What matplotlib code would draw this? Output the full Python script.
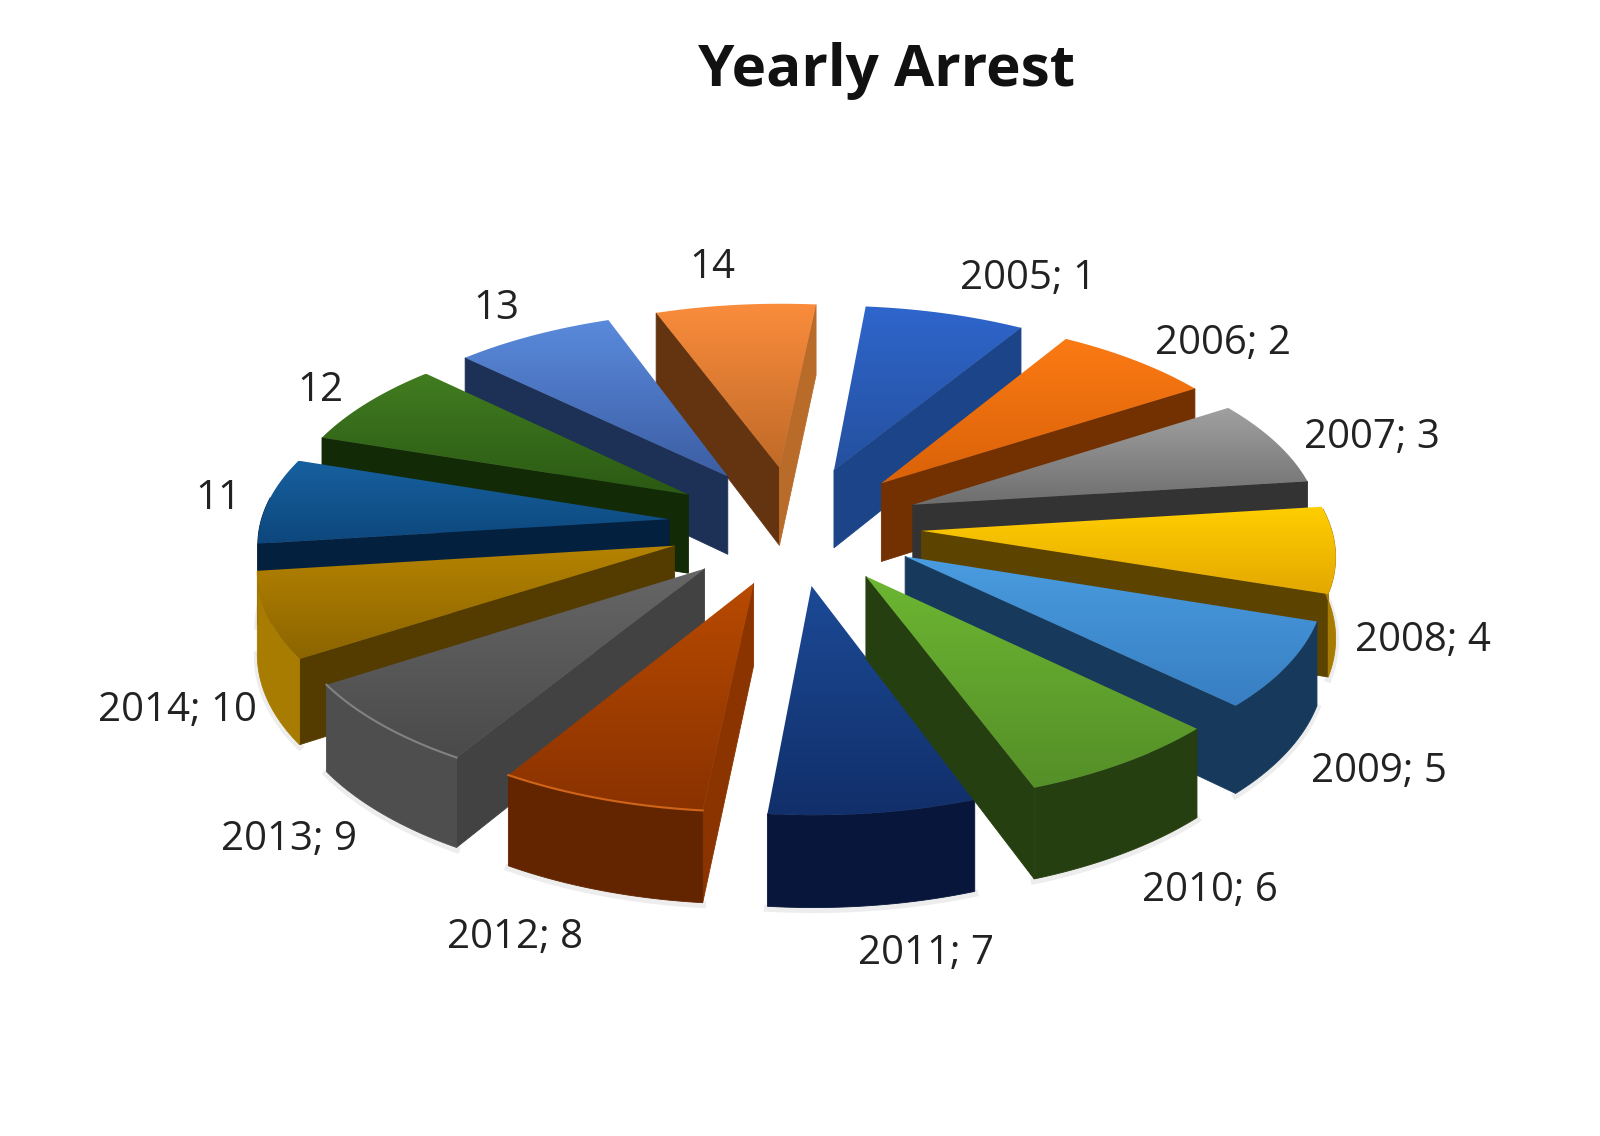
"""Yearly Arrest: exploded 3D pie, drawn by hand since matplotlib has no 3D pie."""
import numpy as np
import matplotlib
matplotlib.use("Agg")
import matplotlib.pyplot as plt
from matplotlib.patches import Polygon

categories = ["2005", "2006", "2007", "2008", "2009", "2010", "2011", "2012", "2013", "2014",
              "", "", "", ""]
label_values = [1, 2, 3, 4, 5, 6, 7, 8, 9, 10, 11, 12, 13, 14]
# the wedges in the picture are all the same size, whatever the label says
slice_sizes = [1, 1, 1, 1, 1, 1, 1, 1, 1, 1, 1, 1, 1, 1]

top_light = ["#2F66CC", "#FB7A14", "#A0A0A0", "#FFCE00", "#4A9CE0", "#6CB632", "#1C4A96",
             "#B84A00", "#666666", "#B58300", "#16609F", "#417C20", "#5A8ADC", "#FA8C3C"]
top_dark = ["#24509E", "#DA6208", "#6E6E6E", "#E4A800", "#387EC2", "#558F28", "#112F6A",
            "#8A3200", "#4A4A4A", "#8C6500", "#0D477C", "#2B5A14", "#3C5EA4", "#C06A28"]
side_col = ["#1C4488", "#733000", "#333333", "#5C4300", "#173A5C", "#263F10", "#07163A",
            "#8C3400", "#424242", "#543C00", "#04203F", "#122A05", "#1D3055", "#63340F"]
rim_col = ["#1C4488", "#733000", "#333333", "#A87C00", "#173A5C", "#263F10", "#07163A",
           "#622500", "#4E4E4E", "#A87C00", "#04203F", "#122A05", "#1D3055", "#63340F"]
# right-hand cut face where it differs from the rest
end_col = {13: "#B96B2A", 0: "#1C4488", 7: "#8C3400"}
# thin bevel highlight along the rim of the two front-left slices
bevel_col = {7: "#D0651A", 8: "#828282"}

# Excel paints 2011 before 2010, not in strict depth order
draw_order = [13, 0, 12, 1, 11, 2, 10, 3, 9, 4, 8, 6, 5, 7]

# camera set-up, in output pixels
CX, CY = 795, 525
SX, SY = 409, 192
PERSP = 0.103
THICK = 80
EXPLODE = 0.31
START = 5.6


def project(x, y, z=0.0):
    w = 1 + PERSP * y
    return CX + SX * x / w, CY - SY * y / w + z * THICK / w


def area(pts):
    x, y = np.array(pts).T
    return 0.5 * np.sum(x * np.roll(y, -1) - np.roll(x, -1) * y)


fig = plt.figure(figsize=(16, 11.36), dpi=100)
ax = fig.add_axes([0, 0, 1, 1])
ax.set_xlim(0, 1600)
ax.set_ylim(1136, 0)
ax.axis("off")

edges = START + 360 * np.cumsum([0] + slice_sizes) / sum(slice_sizes)
z = 2
for i in draw_order:
    t0, t1 = np.radians(edges[i]), np.radians(edges[i + 1])
    mid = (t0 + t1) / 2
    ax0, ay0 = EXPLODE * np.sin(mid), EXPLODE * np.cos(mid)
    ts = np.linspace(t0, t1, 40)
    xs, ys = ax0 + np.sin(ts), ay0 + np.cos(ts)

    apex_top, apex_bot = project(ax0, ay0), project(ax0, ay0, 1)
    rim_top = [project(a, b) for a, b in zip(xs, ys)]
    rim_bot = [project(a, b, 1) for a, b in zip(xs, ys)]

    # cut faces, only when they turn towards the camera
    start_face = [apex_top, rim_top[0], rim_bot[0], apex_bot]
    end_face = [apex_top, rim_top[-1], rim_bot[-1], apex_bot]
    if area(start_face) < 0:
        ax.add_patch(Polygon(start_face, fc=side_col[i], ec=side_col[i], lw=0.6, zorder=z))
    if area(end_face) > 0:
        c = end_col.get(i, side_col[i])
        ax.add_patch(Polygon(end_face, fc=c, ec=c, lw=0.6, zorder=z))

    # outer wall: draw only the part of the rim facing us
    front = np.cos(ts) < 0.12
    if front.any():
        wall = [p for p, f in zip(rim_top, front) if f] + [p for p, f in zip(rim_bot, front) if f][::-1]
        ax.add_patch(Polygon(wall, fc=rim_col[i], ec=rim_col[i], lw=0.6, zorder=z))
        low = np.array([p for p, f in zip(rim_bot, front) if f])
        ax.plot(low[:, 0], low[:, 1] + 2, color="#000000", alpha=0.07, lw=5, zorder=1)

    # top face, lighter towards the top of the picture
    top = [apex_top] + rim_top
    tx, ty = np.array(top).T
    c0 = np.array(matplotlib.colors.to_rgb(top_light[i]))
    c1 = np.array(matplotlib.colors.to_rgb(top_dark[i]))
    f = np.linspace(0, 1, 64)[:, None]
    grad = (c0 * (1 - f) + c1 * f)[:, None, :]
    face = Polygon(top, fc="none", ec="none", zorder=z + 0.1)
    ax.add_patch(face)
    im = ax.imshow(grad, extent=(tx.min(), tx.max(), ty.max(), ty.min()), aspect="auto",
                   zorder=z + 0.1, interpolation="bilinear")
    im.set_clip_path(face)

    if i in bevel_col:
        rx, ry = np.array(rim_top).T
        ax.plot(rx, ry, color=bevel_col[i], lw=1.5, zorder=z + 0.2)

    z += 1

ax.set_xlim(0, 1600)
ax.set_ylim(1136, 0)

label_xy = [(1028, 279), (1223, 344), (1372, 438), (1423, 641), (1379, 772), (1210, 891), (926, 954),
            (515, 938), (289, 840), (177, 711), (218, 499), (320, 391), (496, 309), (712, 268)]
for cat, val, (lx, ly) in zip(categories, label_values, label_xy):
    txt = f"{cat}; {val}" if cat else f"{val}"
    ax.text(lx, ly, txt, ha="center", va="center", fontsize=29, family="Open Sans",
            color="#222222", zorder=50)

ax.text(887, 71, "Yearly Arrest", ha="center", va="center", fontsize=42, fontweight="bold",
        family="Open Sans", color="#111111", zorder=50)

fig.savefig("out.png", dpi=100)
